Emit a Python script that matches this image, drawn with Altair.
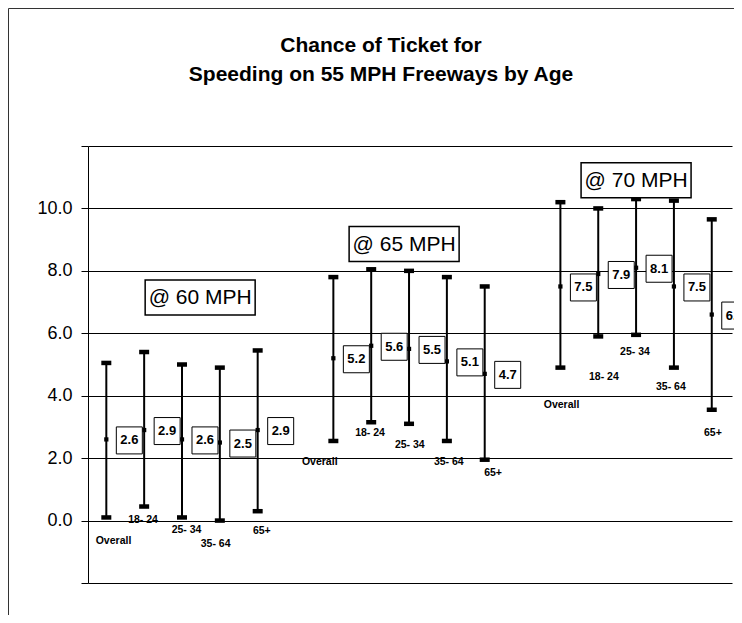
import altair as alt
import pandas as pd

# ---- data -----------------------------------------------------------------
title_lines = ["Chance of Ticket for", "Speeding on 55 MPH Freeways by Age"]
speeds = ["@ 60 MPH", "@ 65 MPH", "@ 70 MPH"]
ages = ["Overall", "18- 24", "25- 34", "35- 64", "65+"]

mean_60 = [2.6, 2.9, 2.6, 2.5, 2.9]
low_60 = [0.1, 0.45, 0.1, 0.0, 0.3]
high_60 = [5.05, 5.4, 5.0, 4.9, 5.45]

mean_65 = [5.2, 5.6, 5.5, 5.1, 4.7]
low_65 = [2.55, 3.15, 3.1, 2.55, 1.95]
high_65 = [7.8, 8.05, 8.0, 7.8, 7.5]

mean_70 = [7.5, 7.9, 8.1, 7.5, 6.6]
low_70 = [4.9, 5.9, 5.95, 4.9, 3.55]
high_70 = [10.2, 10.0, 10.3, 10.25, 9.65]

# age label anchors (value units) and sideways nudges (slot units)
label_y_60 = [-0.65, 0.02, -0.30, -0.75, -0.33]
label_y_65 = [1.88, 2.81, 2.42, 1.88, 1.52]
label_y_70 = [3.70, 4.60, 5.40, 4.28, 2.81]
label_dx_60 = [0.19, -0.03, 0.12, -0.11, 0.11]
label_dx_65 = [-0.36, -0.03, 0.02, 0.05, 0.22]
label_dx_70 = [0.03, 0.15, -0.03, -0.08, 0.03]

# speed annotation centres (slot units, value units)
speed_slot = [2.48, 7.87, 14.0]
speed_value = [7.15, 8.86, 10.9]

y_ticks = [-2, 0, 2, 4, 6, 8, 10, 12]

# ---- tables ------------------------------------------------------------------
means = [mean_60, mean_65, mean_70]
lows = [low_60, low_65, low_70]
highs = [high_60, high_65, high_70]
lys = [label_y_60, label_y_65, label_y_70]
ldx = [label_dx_60, label_dx_65, label_dx_70]

rows = []
for g, sp in enumerate(speeds):
    for a, age in enumerate(ages):
        slot = 6 * g + a
        rows.append({
            "speed": sp, "age": age, "slot": slot,
            "mean": means[g][a], "low": lows[g][a], "high": highs[g][a],
            "label_y": lys[g][a], "label_x": slot + ldx[g][a],
        })
df = pd.DataFrame(rows)
sp_df = pd.DataFrame({"speed": speeds, "slot": speed_slot, "value": speed_value})
one = pd.DataFrame({"k": [0]})

FONT = "Liberation Sans, Arial"

xs = alt.Scale(domain=[-0.484, 16.535], nice=False, zero=False)
ys = alt.Scale(domain=[-2, 12], nice=False, zero=False)

X = alt.X("slot:Q", scale=xs, axis=None)
base = alt.Chart(df)

yaxis = alt.Axis(
    values=y_ticks, grid=True, gridColor="black", gridWidth=1, gridOpacity=1,
    domainColor="black", domainWidth=1, tickColor="black", tickSize=7,
    labelFont=FONT, labelFontSize=18, labelColor="black", labelPadding=9,
    labelExpr="datum.value >= 0 && datum.value <= 10 ? format(datum.value, '.1f') : ''",
    title=None,
)

bars = base.mark_rule(color="black", strokeWidth=2).encode(
    x=X, y=alt.Y("low:Q", scale=ys, axis=yaxis), y2="high:Q"
)

cap_shape = "M-1,-0.45H1V0.45H-1Z"
cap_low = base.mark_point(shape=cap_shape, size=100, filled=True, color="black", opacity=1).encode(
    x=X, y=alt.Y("low:Q", scale=ys)
)
cap_high = base.mark_point(shape=cap_shape, size=100, filled=True, color="black", opacity=1).encode(
    x=X, y=alt.Y("high:Q", scale=ys)
)
mean_pt = base.mark_square(size=18, filled=True, color="black", opacity=1).encode(
    x=X, y=alt.Y("mean:Q", scale=ys)
)

box_shape = "M-0.963,-1H0.963V1H-0.963Z"
val_box = base.mark_point(
    shape=box_shape, size=729, fill="white", stroke="black", strokeWidth=1,
    opacity=1, xOffset=23, yOffset=1,
).encode(x=X, y=alt.Y("mean:Q", scale=ys))
val_text = base.mark_text(
    font=FONT, fontSize=13, fontWeight="bold", color="black", xOffset=23, yOffset=1,
    align="center", baseline="middle",
).encode(x=X, y=alt.Y("mean:Q", scale=ys), text=alt.Text("mean:Q", format=".1f"))

age_text = base.mark_text(
    font=FONT, fontSize=10.5, fontWeight="bold", color="black",
    align="center", baseline="middle",
).encode(x=alt.X("label_x:Q", scale=xs), y=alt.Y("label_y:Q", scale=ys), text="age:N")

sp_base = alt.Chart(sp_df)
sp_shape = "M-1,-0.318H1V0.318H-1Z"
sp_box = sp_base.mark_point(
    shape=sp_shape, size=110 * 110, fill="white", stroke="black", strokeWidth=1.5, opacity=1,
).encode(x=alt.X("slot:Q", scale=xs), y=alt.Y("value:Q", scale=ys))
sp_text = sp_base.mark_text(
    font=FONT, fontSize=21, color="black", align="center", baseline="middle", dy=1,
).encode(x=alt.X("slot:Q", scale=xs), y=alt.Y("value:Q", scale=ys), text="speed:N")

title = alt.Chart(one).mark_text(
    font=FONT, fontSize=21, fontWeight="bold", color="black", align="center",
    baseline="alphabetic", lineHeight=29,
).encode(x=alt.value(293), y=alt.value(-94), text=alt.value(title_lines))

frame_left = alt.Chart(one).mark_rule(color="#333", strokeWidth=1).encode(
    x=alt.value(-79.5), y=alt.value(-137.5), y2=alt.value(470)
)
frame_top = alt.Chart(one).mark_rule(color="#333", strokeWidth=1).encode(
    x=alt.value(-79.5), x2=alt.value(660), y=alt.value(-137.5)
)

chart = alt.layer(
    bars, cap_low, cap_high, mean_pt, val_box, val_text, age_text, sp_box, sp_text,
    title, frame_left, frame_top,
).properties(
    width=644, height=437,
    autosize=alt.AutoSizeParams(type="none"),
    padding={"left": 80, "top": 138, "right": 2, "bottom": 32},
    background="white",
).configure_view(stroke=None)

chart.save("out.html", embed_options={"renderer": "svg", "actions": False})
